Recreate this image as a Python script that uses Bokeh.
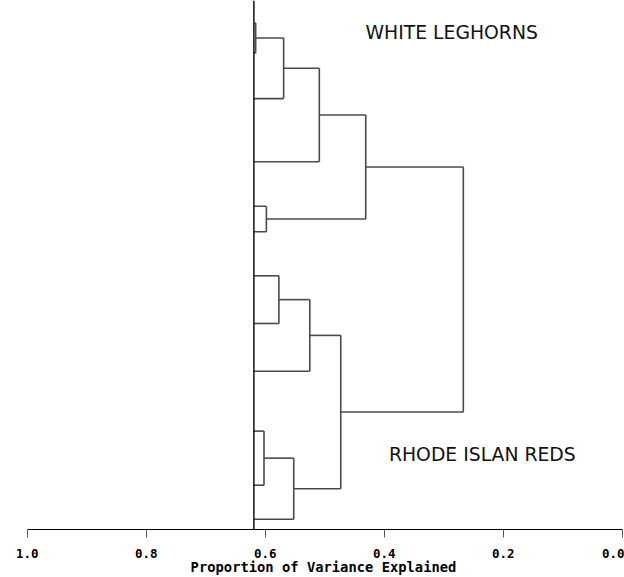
from bokeh.plotting import figure
from bokeh.models import Range1d, FixedTicker, Label, Span, ColumnDataSource, NumeralTickFormatter
from bokeh.embed import file_html
from bokeh.resources import INLINE

# ---- data -------------------------------------------------------------
# vertical position of each variable (leaf), 0 = axis
leaf_y = [509.6, 479.6, 433.6, 370.0, 325.3, 299.6, 255.3, 207.3, 159.3, 99.0, 44.6, 10.3]
# proportion of variance explained at the leaf level
leaf_level = 0.619
# merges: node ids 0..11 are leaves, merge k creates node 12+k
merge_a = [0, 12, 13, 4, 14, 6, 17, 9, 19, 18, 16]
merge_b = [1, 2, 3, 5, 15, 7, 8, 10, 11, 20, 21]
merge_h = [0.616, 0.569, 0.509, 0.598, 0.431, 0.577, 0.525, 0.602, 0.552, 0.473, 0.267]
tick_values = [1.0, 0.8, 0.6, 0.4, 0.2, 0.0]
group_labels = ["WHITE LEGHORNS", "RHODE ISLAN REDS"]
x_title = "Proportion of Variance Explained"

# ---- build dendrogram segments ---------------------------------------
node_y = list(leaf_y)
node_h = [leaf_level] * len(leaf_y)
x0, y0, x1, y1 = [], [], [], []
for a, b, h in zip(merge_a, merge_b, merge_h):
    ya, yb = node_y[a], node_y[b]
    ha, hb = node_h[a], node_h[b]
    # horizontal branches
    x0 += [ha, hb]; y0 += [ya, yb]; x1 += [h, h]; y1 += [ya, yb]
    # vertical connector
    x0.append(h); y0.append(ya); x1.append(h); y1.append(yb)
    node_y.append((ya + yb) / 2.0)
    node_h.append(h)

src = ColumnDataSource(dict(x0=x0, y0=y0, x1=x1, y1=y1))

p = figure(width=624, height=577, output_backend="svg", toolbar_location=None,
           x_range=Range1d(1.0079, -0.0039), y_range=Range1d(0, 532.3),
           y_axis_location=None, min_border_left=22, min_border_right=0,
           min_border_top=0, min_border_bottom=45)
p.outline_line_color = None
p.xgrid.visible = False
p.ygrid.visible = False
p.background_fill_color = "white"
p.border_fill_color = "white"

p.segment(x0="x0", y0="y0", x1="x1", y1="y1", source=src,
          line_color="#4a4a4a", line_width=1.6)

p.add_layout(Span(location=leaf_level, dimension="height",
                  line_color="black", line_width=1.4))

ax = p.xaxis[0]
ax.ticker = FixedTicker(ticks=tick_values)
ax.formatter = NumeralTickFormatter(format="0.0")
ax.bounds = (0.0, 1.0)
ax.axis_line_color = "black"
ax.axis_line_width = 1.2
ax.major_tick_in = 0
ax.major_tick_out = 8
ax.major_tick_line_color = "#555555"
ax.minor_tick_line_color = None
ax.major_label_standoff = 11
ax.major_label_text_font = "DejaVu Sans Mono"
ax.major_label_text_font_style = "bold"
ax.major_label_text_font_size = "12.5px"
ax.major_label_text_color = "black"
ax.axis_label = x_title
ax.axis_label_standoff = -2
ax.axis_label_text_font = "DejaVu Sans Mono"
ax.axis_label_text_font_style = "bold"
ax.axis_label_text_font_size = "13.8px"
ax.axis_label_text_color = "black"

p.add_layout(Label(x=0.4314, y=500.6, text=group_labels[0], text_font="DejaVu Sans",
                   text_font_size="18.8px", text_color="#111111",
                   text_baseline="middle", text_align="left"))
p.add_layout(Label(x=0.392, y=75.3, text=group_labels[1], text_font="DejaVu Sans",
                   text_font_size="18.8px", text_color="#111111",
                   text_baseline="middle", text_align="left"))

open("out.html", "w").write(file_html(p, INLINE))
